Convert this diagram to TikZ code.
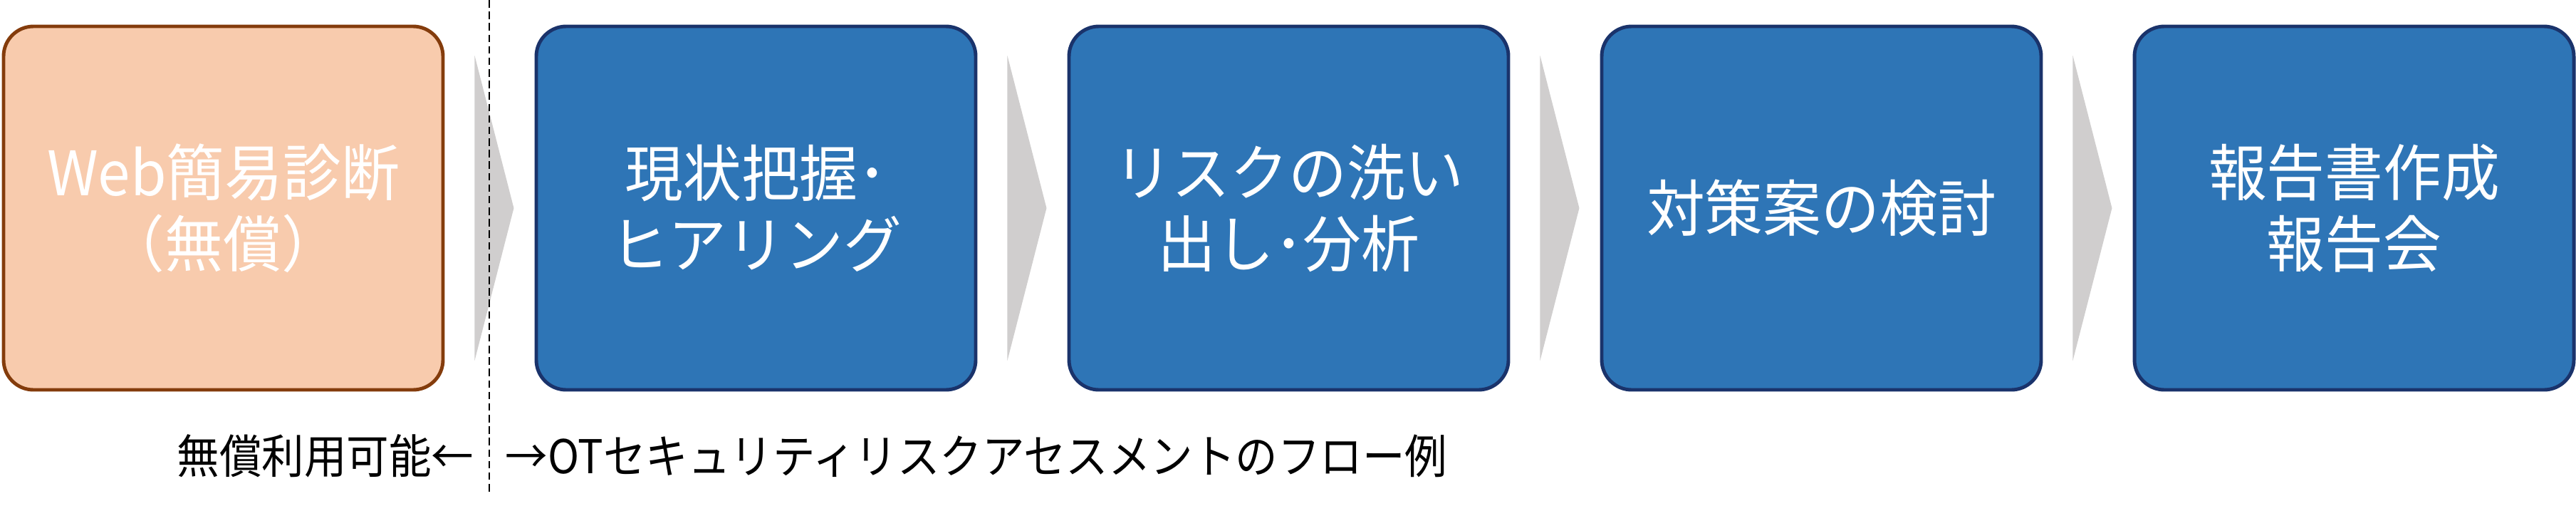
\documentclass[tikz,border=0pt]{standalone}
\usepackage{fontspec}
\setmainfont{Noto Sans CJK JP}
\newfontfamily\stepfont[FakeStretch=0.95]{Noto Sans CJK JP}
\newfontfamily\notefont[FakeStretch=0.91]{Noto Sans CJK JP}
\usepackage{tikz}
\definecolor{stepblue}{HTML}{2E75B6}
\definecolor{stepnavy}{HTML}{1A336B}
\definecolor{freefill}{HTML}{F8CBAD}
\definecolor{freeline}{HTML}{843C0C}
\definecolor{chevgray}{HTML}{D0CECE}
\begin{document}
\begin{tikzpicture}
	\tikzstyle{stepbox} = [rounded corners=0.42cm, minimum width=6.17cm, minimum height=5.10cm, inner sep=0pt, line width=1.4pt, align=center, text=white, font=\stepfont\fontsize{24.5}{28.5}\selectfont]
	\tikzstyle{paidstep} = [stepbox, fill=stepblue, draw=stepnavy]
	\tikzstyle{freestep} = [stepbox, fill=freefill, draw=freeline]
	\tikzstyle{chevron} = [fill=chevgray]
	\tikzstyle{note} = [inner sep=0pt, font=\notefont\fontsize{18.6}{20}\selectfont]
	\useasboundingbox (0,0) rectangle (36.17,7.09);
	\node[freestep] (WebCheck) at (3.135, 4.17) {Web簡易診断\\（無償）};
	\node[paidstep] (Hearing) at (10.615, 4.17) {現状把握･\\ヒアリング};
	\node[paidstep] (RiskList) at (18.095, 4.17) {リスクの洗い\\出し･分析};
	\node[paidstep] (Measures) at (25.575, 4.17) {対策案の検討};
	\node[paidstep] (Report) at (33.055, 4.17) {報告書作成\\報告会};
	\fill[chevron] ([xshift=0.42cm, yshift=2.14cm]WebCheck.east) -- ([xshift=0.97cm]WebCheck.east) -- ([xshift=0.42cm, yshift=-2.14cm]WebCheck.east) -- cycle;
	\fill[chevron] ([xshift=0.42cm, yshift=2.14cm]Hearing.east) -- ([xshift=0.97cm]Hearing.east) -- ([xshift=0.42cm, yshift=-2.14cm]Hearing.east) -- cycle;
	\fill[chevron] ([xshift=0.42cm, yshift=2.14cm]RiskList.east) -- ([xshift=0.97cm]RiskList.east) -- ([xshift=0.42cm, yshift=-2.14cm]RiskList.east) -- cycle;
	\fill[chevron] ([xshift=0.42cm, yshift=2.14cm]Measures.east) -- ([xshift=0.97cm]Measures.east) -- ([xshift=0.42cm, yshift=-2.14cm]Measures.east) -- cycle;
	\coordinate (CutTop) at (6.87, 7.09);
	\coordinate (CutBottom) at (6.87, 0.19);
	\draw[dashed, line width=0.6pt, dash pattern=on 3pt off 1.6pt] (CutTop) -- (CutBottom);
	\node[note, anchor=east] (FreeNote) at (6.66, 0.69) {無償利用可能←};
	\node[note, anchor=west] (FlowNote) at (7.09, 0.69) {→OTセキュリティリスクアセスメントのフロー例};
\end{tikzpicture}
\end{document}
